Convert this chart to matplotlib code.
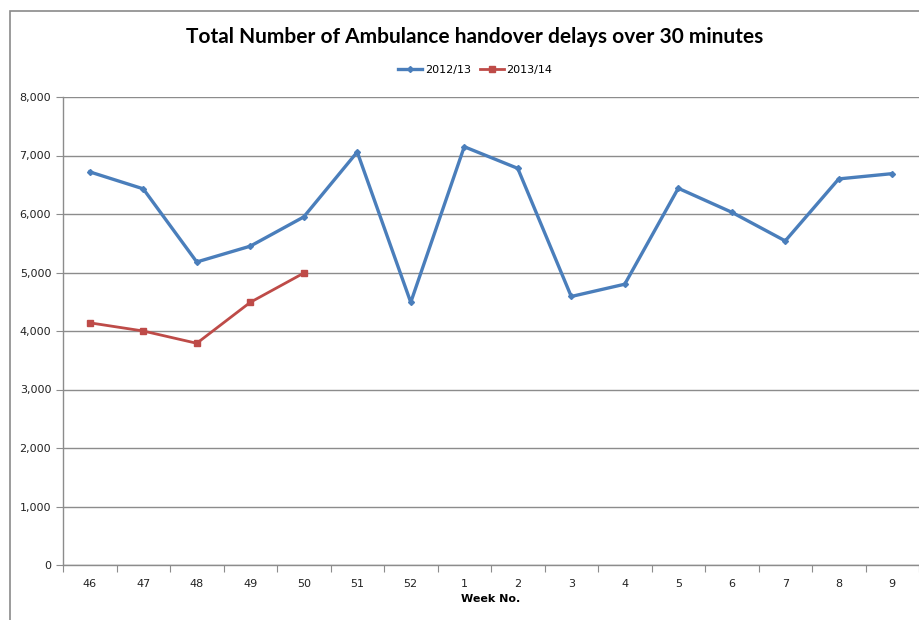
import matplotlib.pyplot as plt
from matplotlib.patches import Rectangle
from matplotlib.ticker import FuncFormatter
import numpy as np

weeks = ["46", "47", "48", "49", "50", "51", "52", "1", "2", "3", "4", "5", "6", "7", "8", "9"]
delays_2012 = [6720, 6430, 5180, 5450, 5950, 7060, 4490, 7150, 6780, 4590, 4800, 6440, 6030, 5540, 6600, 6690]
delays_2013 = [4140, 4000, 3790, 4490, 4990]

blue = "#4A7EBB"
red = "#BE4B48"
grid_col = "#8C8C8C"

fig = plt.figure(figsize=(9.19, 6.2), dpi=100)
ax = fig.add_axes([63 / 919, 1 - 565 / 620, 1 - 63 / 919, (565 - 97) / 620])

# chart frame
fig.patches.append(Rectangle((10 / 919, -0.01), 1.0, 1 - 11 / 620 + 0.01, transform=fig.transFigure,
                             fill=False, edgecolor="#8A8A8A", lw=1.2))

x = np.arange(len(weeks))
ax.plot(x, delays_2012, color=blue, lw=2.4, marker="D", ms=3, label="2012/13")
ax.plot(x[:len(delays_2013)], delays_2013, color=red, lw=2.0, marker="s", ms=4, label="2013/14")

ax.set_xlim(-0.5, len(weeks) - 0.5)
ax.set_ylim(0, 8000)
ax.set_yticks(np.arange(0, 8001, 1000))
ax.yaxis.set_major_formatter(FuncFormatter(lambda v, p: f"{int(v):,}"))
ax.yaxis.grid(True, color=grid_col, lw=1)
ax.set_axisbelow(True)

ax.set_xticks(np.arange(-0.5, len(weeks), 1))
ax.set_xticklabels([])
ax.set_xticks(x, minor=True)
ax.set_xticklabels(weeks, minor=True, fontsize=8, color="#222222")
ax.tick_params(axis="x", which="major", length=5, color=grid_col, direction="out")
ax.tick_params(axis="x", which="minor", length=0, pad=10)
ax.tick_params(axis="y", length=5, color=grid_col, labelsize=8, labelcolor="#222222")

for s in ["top", "right"]:
    ax.spines[s].set_visible(False)
for s in ["left", "bottom"]:
    ax.spines[s].set_color(grid_col)
    ax.spines[s].set_linewidth(1)

ax.set_xlabel("Week No.", fontsize=8, fontweight="bold", labelpad=4)

fig.text(0.517, 0.941, "Total Number of Ambulance handover delays over 30 minutes",
         ha="center", va="center", fontsize=15, fontweight="bold", family=["Lato", "DejaVu Sans"])

fig.legend(loc="center", bbox_to_anchor=(0.517, 0.887), ncol=2, frameon=False,
           fontsize=8, handlelength=2.2, columnspacing=0.8, handletextpad=0.2)

fig.savefig("out.png", dpi=100)
